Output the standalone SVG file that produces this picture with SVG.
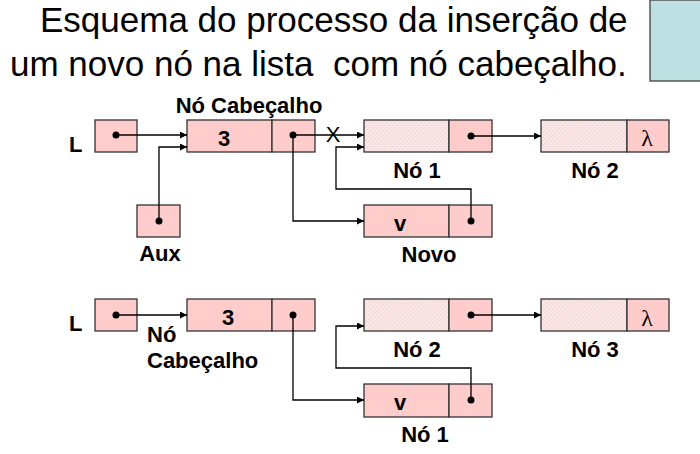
<svg xmlns="http://www.w3.org/2000/svg" width="700" height="454" viewBox="0 0 700 454">
<style>
.title{font-family:"Liberation Sans",Arial,sans-serif;font-size:35px;fill:#000;white-space:pre}
.lbl{font-family:"Liberation Sans",Arial,sans-serif;font-size:22px;font-weight:bold;fill:#000}
.mid{text-anchor:middle}
.lam{font-family:"Liberation Serif","Times New Roman",serif;font-size:24px;fill:#000;text-anchor:middle}
.cell{fill:#ffcccc;stroke:#333;stroke-width:1.3}
.hatch{fill:url(#hp);stroke:#333;stroke-width:1.3}
.con{fill:none;stroke:#000;stroke-width:1.3}
.dot{fill:#000}
</style>
<defs>
<pattern id="hp" width="3" height="3" patternUnits="userSpaceOnUse" patternTransform="rotate(45)">
<rect width="3" height="3" fill="#fbe9e9"/>
<line x1="0" y1="0" x2="0" y2="3" stroke="#eccaca" stroke-width="1.2"/>
</pattern>
<marker id="ah" viewBox="0 0 10 10" refX="10" refY="5" markerWidth="9" markerHeight="7" markerUnits="userSpaceOnUse" orient="auto">
<path d="M0,0 L10,5 L0,10 z" fill="#000"/>
</marker>
</defs>
<rect id="deco" x="650" y="0" width="60" height="81" fill="#bde0e2" stroke="#555" stroke-width="1.5"/>
<text class="title" x="40" y="32">Esquema do processo da inserção de</text>
<text class="title" x="10" y="76">um novo nó na lista  com nó cabeçalho.</text>

<!-- top scenario -->
<g id="L1">
<text class="lbl" x="69" y="152">L</text>
<rect class="cell" x="95" y="120" width="42" height="32"/>
<circle class="dot" cx="116" cy="135" r="3.5"/>
</g>
<g id="cab1">
<text class="lbl mid" x="249" y="113">Nó Cabeçalho</text>
<rect class="cell" x="187" y="120" width="85" height="32"/>
<rect class="cell" x="272" y="120" width="43" height="32"/>
<text class="lbl mid" x="224" y="146">3</text>
<circle class="dot" cx="293" cy="135" r="3.5"/>
</g>
<g id="aux">
<rect class="cell" x="137" y="205" width="43" height="32"/>
<circle class="dot" cx="159" cy="221" r="3.5"/>
<text class="lbl mid" x="160" y="261">Aux</text>
</g>
<g id="no1a">
<rect class="hatch" x="364" y="120" width="85" height="32"/>
<rect class="cell" x="449" y="120" width="43" height="32"/>
<circle class="dot" cx="471" cy="136" r="3.5"/>
<text class="lbl mid" x="417" y="178">Nó 1</text>
</g>
<g id="no2a">
<rect class="hatch" x="541" y="120" width="86" height="32"/>
<rect class="cell" x="627" y="120" width="42" height="32"/>
<text class="lam" x="647" y="146">λ</text>
<text class="lbl mid" x="595" y="178">Nó 2</text>
</g>
<g id="novo">
<rect class="cell" x="364" y="205" width="85" height="32"/>
<rect class="cell" x="449" y="205" width="43" height="32"/>
<text class="lbl mid" x="400" y="231">v</text>
<circle class="dot" cx="471" cy="221" r="3.5"/>
<text class="lbl mid" x="429" y="262">Novo</text>
</g>

<!-- bottom scenario -->
<g id="L2">
<text class="lbl" x="69" y="331">L</text>
<rect class="cell" x="95" y="299" width="42" height="32"/>
<circle class="dot" cx="116" cy="315" r="3.5"/>
</g>
<g id="cab2">
<rect class="cell" x="187" y="299" width="85" height="32"/>
<rect class="cell" x="272" y="299" width="43" height="32"/>
<text class="lbl mid" x="228" y="325">3</text>
<circle class="dot" cx="293" cy="315" r="3.5"/>
<text class="lbl" x="147" y="342">Nó</text>
<text class="lbl" x="147" y="368">Cabeçalho</text>
</g>
<g id="no2b">
<rect class="hatch" x="364" y="299" width="85" height="32"/>
<rect class="cell" x="449" y="299" width="43" height="32"/>
<circle class="dot" cx="471" cy="315" r="3.5"/>
<text class="lbl mid" x="417" y="357">Nó 2</text>
</g>
<g id="no3b">
<rect class="hatch" x="541" y="299" width="86" height="32"/>
<rect class="cell" x="627" y="299" width="42" height="32"/>
<text class="lam" x="647" y="326">λ</text>
<text class="lbl mid" x="595" y="357">Nó 3</text>
</g>
<g id="no1b">
<rect class="cell" x="364" y="384" width="85" height="33"/>
<rect class="cell" x="449" y="384" width="43" height="33"/>
<text class="lbl mid" x="400" y="410">v</text>
<circle class="dot" cx="471" cy="400" r="3.5"/>
<text class="lbl mid" x="425" y="442">Nó 1</text>
</g>

<g id="connectors">
<path class="con" d="M116,135 H187" marker-end="url(#ah)"/>
<path class="con" d="M159,221 V147 H187" marker-end="url(#ah)"/>
<path class="con" d="M293,135 H364" marker-end="url(#ah)"/>
<text x="333" y="142" font-family="Liberation Sans,Arial,sans-serif" font-size="22" text-anchor="middle" fill="#000">X</text>
<path class="con" d="M293,135 V221 H364" marker-end="url(#ah)"/>
<path class="con" d="M471,221 V189 H336 V147 H364" marker-end="url(#ah)"/>
<path class="con" d="M471,136 H541" marker-end="url(#ah)"/>
<path class="con" d="M116,315 H187" marker-end="url(#ah)"/>
<path class="con" d="M293,315 V400 H364" marker-end="url(#ah)"/>
<path class="con" d="M471,400 V368 H336 V326 H364" marker-end="url(#ah)"/>
<path class="con" d="M471,315 H541" marker-end="url(#ah)"/>
</g>
</svg>
